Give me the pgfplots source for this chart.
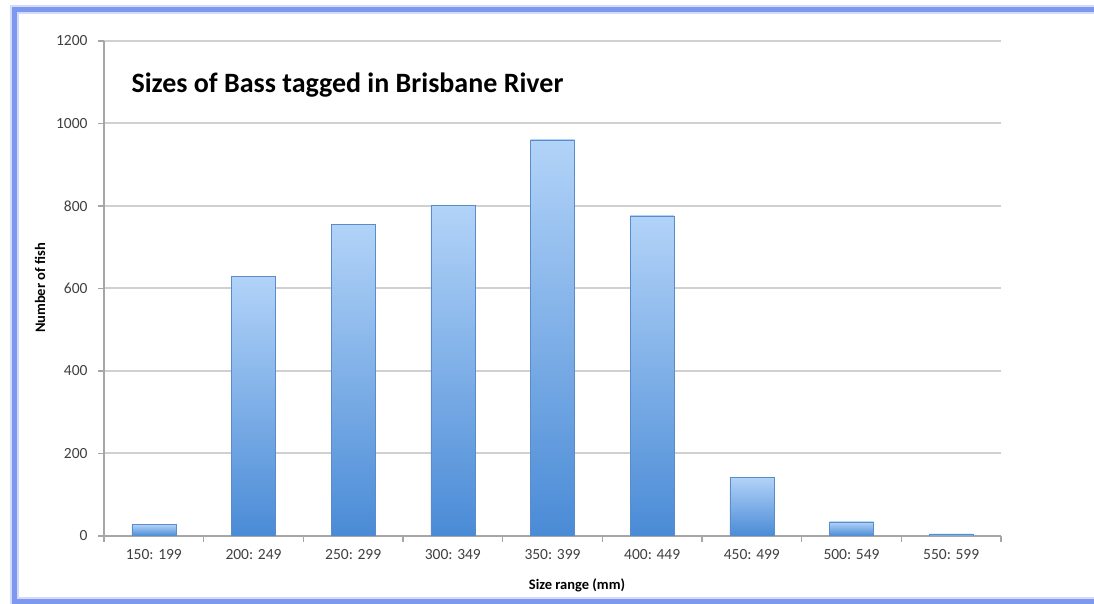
\documentclass[border=0pt]{standalone}
\usepackage{pgfplots}
\pgfplotsset{compat=1.18}
\usepackage{fontspec}
\setmainfont{Carlito}
\definecolor{framecol}{HTML}{7D98EE}
\definecolor{gridcol}{HTML}{D0D0D0}
\definecolor{axcol}{HTML}{A6A6A6}
\definecolor{lblcol}{HTML}{404040}
\definecolor{bartop}{HTML}{B2D3F8}
\definecolor{barbot}{HTML}{4A8BD6}
\definecolor{baredge}{HTML}{5A8CCB}
\begin{document}
\begin{tikzpicture}[x=1pt,y=1pt]
\path[use as bounding box] (0pt,0pt) rectangle (1094pt,604pt);
\begin{scope}
\clip (0pt,0pt) rectangle (1094pt,604pt);
\draw[framecol!35, line width=9pt] (1110pt,594.5pt) -- (14.5pt,594.5pt) -- (14.5pt,2.5pt) -- (1110pt,2.5pt);
\draw[framecol, line width=5pt] (1110pt,594.5pt) -- (14.5pt,594.5pt) -- (14.5pt,2.5pt) -- (1110pt,2.5pt);
\end{scope}
\begin{axis}[
  at={(104pt,68pt)}, anchor=south west,
  scale only axis, width=897pt, height=495pt,
  xmin=-0.5, xmax=8.5, ymin=0, ymax=1200,
  axis x line=bottom, axis y line=left,
  axis line style={-, draw=axcol, line width=1.2pt},
  ytick={0,200,...,1200},
  xtick={-0.5,0.5,...,8.5}, xticklabels={},
  extra x ticks={0,1,...,8},
  extra x tick labels={150: 199,200: 249,250: 299,300: 349,350: 399,400: 449,450: 499,500: 549,550: 599},
  extra x tick style={major tick length=0pt, grid=none},
  tick align=outside, major tick length=6pt,
  tick style={draw=axcol, line width=1.2pt},
  ymajorgrids, grid style={draw=gridcol, line width=2pt},
  /pgf/number format/assume math mode=true,
  /pgf/number format/1000 sep={},
  ticklabel style={font=\fontsize{15.5}{17}\selectfont, text=lblcol},
  yticklabel style={xshift=-7pt},
  xticklabel style={yshift=-10pt},
  bstyle/.style={ybar, bar width=44pt, bar shift=0pt, draw=baredge, line width=0.6pt, top color=bartop, bottom color=barbot},
]
\addplot[bstyle] coordinates {(0,28)};
\addplot[bstyle] coordinates {(1,630)};
\addplot[bstyle] coordinates {(2,756)};
\addplot[bstyle] coordinates {(3,802)};
\addplot[bstyle] coordinates {(4,960)};
\addplot[bstyle] coordinates {(5,776)};
\addplot[bstyle] coordinates {(6,143)};
\addplot[bstyle] coordinates {(7,34)};
\addplot[bstyle] coordinates {(8,5)};
\end{axis}
\node[anchor=base west, font=\bfseries\fontsize{28}{32}\selectfont] at (128pt,511pt) {Sizes of Bass tagged in Brisbane River};
\node[font=\bfseries\fontsize{14.5}{16}\selectfont] at (577pt,19pt) {Size range (mm)};
\node[rotate=90, font=\bfseries\fontsize{14.5}{16}\selectfont] at (40pt,316pt) {Number of fish};
\end{tikzpicture}
\end{document}
